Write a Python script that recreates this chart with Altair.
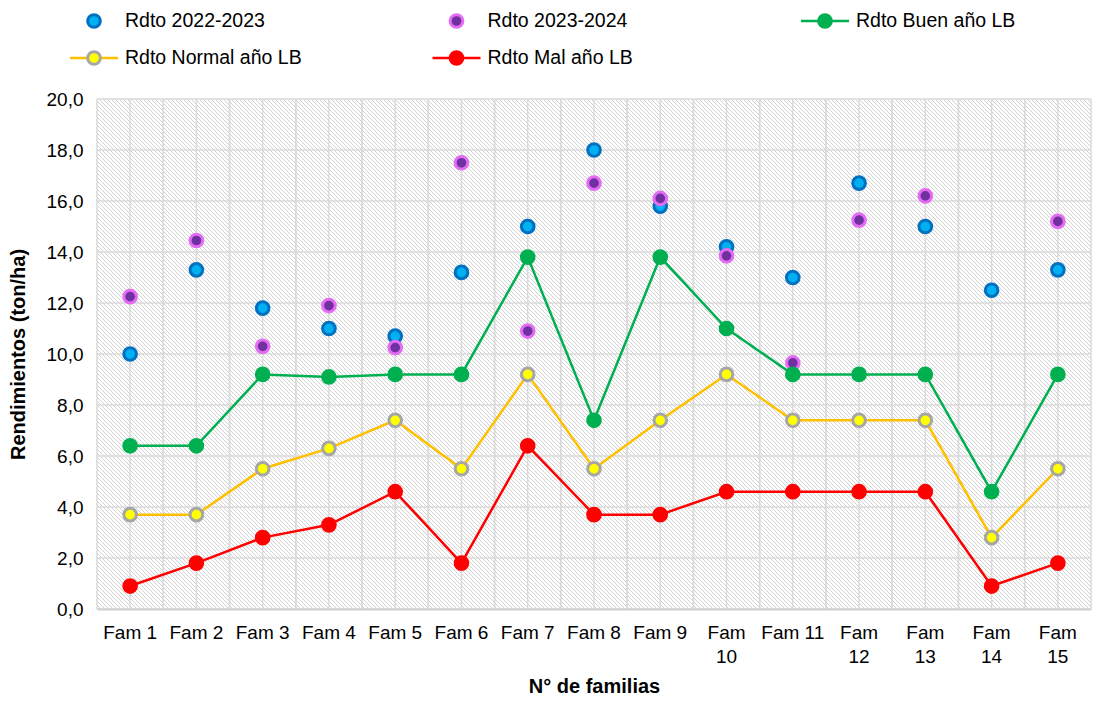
import altair as alt
import pandas as pd

# ---------------- data ----------------
familias = ["Fam 1", "Fam 2", "Fam 3", "Fam 4", "Fam 5", "Fam 6", "Fam 7", "Fam 8",
            "Fam 9", "Fam 10", "Fam 11", "Fam 12", "Fam 13", "Fam 14", "Fam 15"]
etiquetas_x = ["Fam 1", "Fam 2", "Fam 3", "Fam 4", "Fam 5", "Fam 6", "Fam 7", "Fam 8",
               "Fam 9", "Fam~10", "Fam 11", "Fam~12", "Fam~13", "Fam~14", "Fam~15"]
series = ["Rdto 2022-2023", "Rdto 2023-2024", "Rdto Buen año LB",
          "Rdto Normal año LB", "Rdto Mal año LB"]

rdto_2022_2023 = [10.0, 13.3, 11.8, 11.0, 10.7, 13.2, 15.0, 18.0, 15.8, 14.2, 13.0, 16.7, 15.0, 12.5, 13.3]
rdto_2023_2024 = [12.25, 14.45, 10.3, 11.9, 10.25, 17.5, 10.9, 16.7, 16.1, 13.85, 9.65, 15.25, 16.2, None, 15.2]
rdto_buen = [6.4, 6.4, 9.2, 9.1, 9.2, 9.2, 13.8, 7.4, 13.8, 11.0, 9.2, 9.2, 9.2, 4.6, 9.2]
rdto_normal = [3.7, 3.7, 5.5, 6.3, 7.4, 5.5, 9.2, 5.5, 7.4, 9.2, 7.4, 7.4, 7.4, 2.8, 5.5]
rdto_mal = [0.9, 1.8, 2.8, 3.3, 4.6, 1.8, 6.4, 3.7, 3.7, 4.6, 4.6, 4.6, 4.6, 0.9, 1.8]

ticks_y = [0, 2, 4, 6, 8, 10, 12, 14, 16, 18, 20]

valores = [rdto_2022_2023, rdto_2023_2024, rdto_buen, rdto_normal, rdto_mal]
rows = []
for s, vals in zip(series, valores):
    for i, (f, v) in enumerate(zip(familias, vals)):
        if v is not None:
            rows.append({"familia": f, "idx": i, "serie": s, "valor": v})
df = pd.DataFrame(rows)
lineas = series[2:]
df_lines = df[df["serie"].isin(lineas)]

# ---------------- styles ----------------
FONT = "Liberation Sans"
W, H = 994, 510
GRID = "#dadada"
GW = 1.5
NOVIEW = alt.ViewBackground(stroke="transparent", strokeWidth=0)

fill_scale = alt.Scale(domain=series, range=["#00b0f0", "#7030a0", "#00b050", "#ffff00", "#ff0000"])
stroke_scale = alt.Scale(domain=series, range=["#0070c0", "#e46cf4", "#00b050", "#a6a6a6", "#ff0000"])
size_scale = alt.Scale(domain=series, range=[160, 160, 190, 150, 190])
line_scale = alt.Scale(domain=lineas, range=["#00b050", "#ffc000", "#ff0000"])

xscale = alt.Scale(type="band", domain=familias, paddingInner=0, paddingOuter=0)
yscale = alt.Scale(domain=[0, 20], nice=False)

label_expr_x = ("split([" + ",".join("'%s'" % e for e in etiquetas_x) + "][indexof(["
                + ",".join("'%s'" % f for f in familias) + "], datum.label)], '~')")

xaxis = alt.Axis(title="N° de familias", labelAngle=0, labelExpr=label_expr_x,
                 labelFontSize=19, labelLineHeight=24, labelPadding=14, labelColor="#000000",
                 labelFont=FONT, ticks=False, domain=True, domainColor="#d0d0d0", domainWidth=2,
                 grid=False, titleFontSize=20, titleFontWeight="bold", titleColor="#000000",
                 titleFont=FONT, titlePadding=10, zindex=1)
yaxis = alt.Axis(title="Rendimientos (ton/ha)", values=ticks_y,
                 labelExpr="replace(format(datum.value, '.1f'), '.', ',')",
                 labelFontSize=19, labelPadding=14, labelColor="#000000", labelFont=FONT,
                 ticks=False, domain=False, grid=False, titleFontSize=20, titleFontWeight="bold",
                 titleColor="#000000", titleFont=FONT, titlePadding=18)

def X(**kw):
    return alt.X("familia:N", sort=familias, scale=xscale, axis=xaxis, **kw)

def Y():
    return alt.Y("valor:Q", scale=yscale, axis=yaxis)

# hatched plot background: thin diagonal strokes (pure decoration, pixel space)
hatch_rows = []
c = -H
while c < W:
    xa = max(0, c)
    xb = min(W, H + c)
    hatch_rows.append({"hx": xa, "hy": xa - c, "hx2": xb, "hy2": xb - c})
    c += 4
hatch = alt.Chart(pd.DataFrame(hatch_rows)).mark_rule(color="#d2d2d2", strokeWidth=1).encode(
    x=alt.X("hx:Q", scale=None), y=alt.Y("hy:Q", scale=None),
    x2="hx2:Q", y2="hy2:Q")

hgrid = alt.Chart(pd.DataFrame({"valor": ticks_y})).mark_rule(color=GRID, strokeWidth=GW).encode(y=Y())

df_fam = pd.DataFrame({"familia": familias})
vgrid_c = alt.Chart(df_fam).mark_rule(color=GRID, strokeWidth=GW).encode(x=X())
vgrid_l = alt.Chart(df_fam).mark_rule(color=GRID, strokeWidth=GW).encode(x=X(bandPosition=0))
vgrid_r = alt.Chart(df_fam).mark_rule(color=GRID, strokeWidth=GW).encode(x=X(bandPosition=1))

lines = alt.Chart(df_lines).mark_line(strokeWidth=2.5).encode(
    x=X(), y=Y(),
    color=alt.Color("serie:N", scale=line_scale, legend=None),
    order=alt.Order("idx:Q"))

points = alt.Chart(df).mark_point(filled=True, strokeWidth=3, opacity=1, fillOpacity=1).encode(
    x=X(), y=Y(),
    fill=alt.Fill("serie:N", scale=fill_scale, legend=None),
    stroke=alt.Stroke("serie:N", scale=stroke_scale, legend=None),
    size=alt.Size("serie:N", scale=size_scale, legend=None))

main = alt.layer(hatch, hgrid, vgrid_c, vgrid_l, vgrid_r, lines, points).properties(
    width=W, height=H, view=NOVIEW)

# ---------------- legend ----------------
leg_df = pd.DataFrame({"serie": series, "i": list(range(len(series)))})
leg = alt.Chart(leg_df).transform_calculate(
    px="-3 + (datum.i % 3) * 362.5 + (datum.i % 3 == 2 ? 6 : 0)",
    py="12 + floor(datum.i / 3) * 37",
).transform_calculate(
    xa="datum.px - 24", xb="datum.px + 24", tx="datum.px + 31")

leg_lines = leg.transform_filter("datum.i >= 2").mark_rule(strokeWidth=2.5).encode(
    x=alt.X("xa:Q", scale=None), x2="xb:Q", y=alt.Y("py:Q", scale=None),
    color=alt.Color("serie:N", scale=line_scale, legend=None))
leg_pts = leg.mark_point(filled=True, strokeWidth=3, opacity=1, fillOpacity=1).encode(
    x=alt.X("px:Q", scale=None), y=alt.Y("py:Q", scale=None),
    fill=alt.Fill("serie:N", scale=fill_scale, legend=None),
    stroke=alt.Stroke("serie:N", scale=stroke_scale, legend=None),
    size=alt.Size("serie:N", scale=size_scale, legend=None))
leg_txt = leg.mark_text(align="left", baseline="middle", fontSize=19.5, font=FONT, color="#000000").encode(
    x=alt.X("tx:Q", scale=None), y=alt.Y("py:Q", scale=None), text="serie:N")

legend = alt.layer(leg_lines, leg_pts, leg_txt).properties(width=W, height=60, view=NOVIEW)

chart = alt.vconcat(legend, main, spacing=30, bounds="flush").properties(
    padding={"left": 0, "top": 0, "right": 0, "bottom": 0}
).configure_view(stroke="transparent", strokeWidth=0).configure(font=FONT)

chart.save("out.html", embed_options={"renderer": "svg", "actions": False})
